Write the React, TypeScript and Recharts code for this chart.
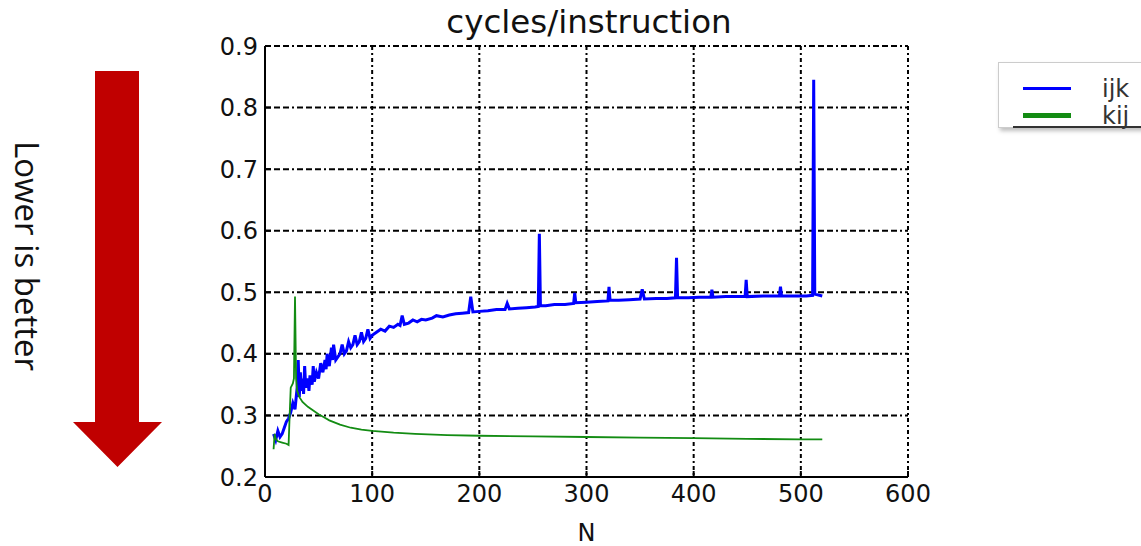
import React from "react"
import { LineChart, Line, XAxis, YAxis, CartesianGrid, Legend } from "recharts"

const nTicks = [0, 100, 200, 300, 400, 500, 600]
const cpiTicks = [0.2, 0.3, 0.4, 0.5, 0.6, 0.7, 0.8, 0.9]

const ijkN = [
  8, 10, 12, 14, 16, 18, 20, 22, 24, 26,
  28, 30, 31, 32, 33, 34, 35, 36, 37, 38,
  40, 41, 42, 44, 45, 46, 48, 50, 52, 54,
  56, 57, 58, 60, 62, 63, 64, 66, 68, 70,
  72, 74, 76, 78, 80, 82, 84, 86, 88, 90,
  92, 94, 96, 98, 100, 104, 108, 112, 116, 120,
  124, 126, 128, 130, 134, 138, 142, 146, 150, 156,
  160, 166, 172, 178, 184, 190, 192, 194, 200, 208,
  216, 224, 226, 228, 236, 244, 252, 255, 256, 257,
  262, 270, 280, 288, 289, 290, 300, 310, 320, 321,
  322, 330, 340, 350, 352, 354, 365, 375, 383, 384,
  385, 395, 405, 416, 417, 418, 430, 440, 448, 449,
  450, 465, 480, 481, 482, 495, 505, 511, 512, 513,
  520,
]
const ijkCpi = [
  0.27, 0.26, 0.275, 0.265, 0.27, 0.28, 0.29, 0.295, 0.305, 0.32,
  0.31, 0.345, 0.39, 0.33, 0.37, 0.34, 0.36, 0.335, 0.38, 0.345,
  0.36, 0.34, 0.365, 0.35, 0.38, 0.355, 0.37, 0.36, 0.385, 0.37,
  0.39, 0.375, 0.4, 0.38, 0.41, 0.39, 0.415, 0.39, 0.395, 0.4,
  0.415, 0.4, 0.405, 0.42, 0.41, 0.415, 0.43, 0.415, 0.42, 0.435,
  0.42, 0.425, 0.44, 0.425, 0.43, 0.435, 0.44, 0.437, 0.445, 0.443,
  0.448, 0.446, 0.462, 0.448, 0.45, 0.455, 0.452, 0.456, 0.455, 0.458,
  0.462, 0.46, 0.463, 0.465, 0.466, 0.467, 0.493, 0.468, 0.469, 0.47,
  0.472, 0.472, 0.482, 0.473, 0.474, 0.475, 0.476, 0.477, 0.595, 0.478,
  0.478, 0.48, 0.48, 0.482, 0.499, 0.483, 0.484, 0.485, 0.486, 0.509,
  0.487, 0.487, 0.488, 0.489, 0.505, 0.489, 0.49, 0.49, 0.491, 0.556,
  0.491, 0.491, 0.492, 0.492, 0.504, 0.492, 0.493, 0.493, 0.493, 0.52,
  0.493, 0.494, 0.494, 0.509, 0.494, 0.494, 0.494, 0.495, 0.845, 0.497,
  0.494,
]

const kijN = [
  8, 9, 10, 12, 16, 20, 22, 23, 24, 26, 27, 28, 29, 30, 32, 35, 40, 45,
  50, 55, 60, 70, 80, 90, 100, 120, 140, 170, 200, 250, 300, 350, 400, 450,
  500, 520,
]
const kijCpi = [
  0.245, 0.27, 0.262, 0.258, 0.256, 0.254, 0.252, 0.3, 0.345, 0.352, 0.36,
  0.493, 0.36, 0.34, 0.33, 0.322, 0.314, 0.308, 0.302, 0.297, 0.292, 0.285,
  0.28, 0.277, 0.275, 0.272, 0.27, 0.268, 0.267, 0.266, 0.265, 0.264, 0.263,
  0.262, 0.261, 0.261,
]

const ijk = ijkN.map((n, i) => ({ n, cpi: ijkCpi[i] }))
const kij = kijN.map((n, i) => ({ n, cpi: kijCpi[i] }))

const legendThickness: Record<string, number> = { ijk: 3, kij: 5 }

const tickFont = { fontFamily: "DejaVu Sans", fontSize: 24, fill: "#111" }
const axisLine = { stroke: "#000", strokeWidth: 2 }
const tickLine = { stroke: "#000", strokeWidth: 2 }

// eslint-disable-next-line @typescript-eslint/no-explicit-any
function LegendBox({ payload }: any) {
  return (
    <div
      style={{
        width: 220,
        height: 64,
        background: "#fff",
        border: "1px solid #ccc",
        boxShadow: "2px 3px 4px rgba(0,0,0,0.25)",
        position: "relative",
        fontFamily: "DejaVu Sans",
        fontSize: 24,
        lineHeight: "24px",
        color: "#333",
      }}
    >
      {/* eslint-disable-next-line @typescript-eslint/no-explicit-any */}
      {(payload || []).map((p: any, i: number) => (
        <div
          key={p.value}
          style={{ position: "absolute", left: 24, top: 13 + i * 27, height: 25, display: "flex", alignItems: "center" }}
        >
          <div style={{ width: 48, height: legendThickness[p.value], background: p.color }} />
          <span style={{ marginLeft: 31 }}>{p.value}</span>
        </div>
      ))}
      <div style={{ position: "absolute", left: 14, right: 0, bottom: -1, height: 2, background: "#333" }} />
    </div>
  )
}

export default function App() {
  return (
    <div style={{ position: "absolute", left: 0, top: 0, width: 1141, height: 546, overflow: "hidden", background: "#fff" }}>
      <div style={{ position: "absolute", left: 0, top: 0 }}>
        <LineChart width={1141} height={546} margin={{ top: 46, right: 233, bottom: 0, left: 205 }}>
          <CartesianGrid vertical={false} stroke="#000" strokeWidth={2} strokeDasharray="6 3 6 3 6 3 2 3" />
          <CartesianGrid horizontal={false} stroke="#000" strokeWidth={2} strokeDasharray="4 3 2 3" />
          <XAxis
            dataKey="n"
            type="number"
            domain={[0, 600]}
            ticks={nTicks}
            interval={0}
            height={69}
            tickSize={-6}
            tickMargin={14}
            tick={tickFont}
            axisLine={axisLine}
            tickLine={tickLine}
            label={{ value: "N", position: "insideBottom", offset: 5, style: tickFont }}
          />
          <XAxis
            xAxisId="top"
            orientation="top"
            type="number"
            domain={[0, 600]}
            ticks={nTicks}
            interval={0}
            height={0}
            tickSize={-6}
            tick={false}
            axisLine={axisLine}
            tickLine={tickLine}
          />
          <YAxis
            type="number"
            domain={[0.2, 0.9]}
            ticks={cpiTicks}
            interval={0}
            width={60}
            tickSize={-6}
            tickMargin={13}
            tick={tickFont}
            tickFormatter={(v: number) => v.toFixed(1)}
            axisLine={axisLine}
            tickLine={tickLine}
          />
          <YAxis
            yAxisId="right"
            orientation="right"
            type="number"
            domain={[0.2, 0.9]}
            ticks={cpiTicks}
            interval={0}
            width={0}
            tickSize={-6}
            tick={false}
            axisLine={axisLine}
            tickLine={tickLine}
          />
          <Legend
            layout="horizontal"
            verticalAlign="middle"
            align="center"
            wrapperStyle={{ left: 998, top: 62, width: "auto" }}
            content={<LegendBox />}
          />
          <Line
            data={ijk}
            dataKey="cpi"
            name="ijk"
            type="linear"
            stroke="#0000ff"
            strokeWidth={3}
            dot={false}
            isAnimationActive={false}
          />
          <Line
            data={kij}
            dataKey="cpi"
            name="kij"
            type="linear"
            stroke="#138c13"
            strokeWidth={1.8}
            dot={false}
            isAnimationActive={false}
          />
        </LineChart>
      </div>
      <svg width={1141} height={546} style={{ position: "absolute", left: 0, top: 0, pointerEvents: "none" }}>
        <text x={589} y={33} textAnchor="middle" fontFamily="DejaVu Sans" fontSize={32.5} fill="#111">
          cycles/instruction
        </text>
        <polygon points="95,71 139,71 139,422 162,422 117.5,467 73,422 95,422" fill="#c00000" />
        <text
          x={27}
          y={256}
          transform="rotate(90 27 256)"
          textAnchor="middle"
          dominantBaseline="central"
          fontFamily="Open Sans"
          fontSize={33}
          fill="#111"
        >
          Lower is better
        </text>
      </svg>
    </div>
  )
}
